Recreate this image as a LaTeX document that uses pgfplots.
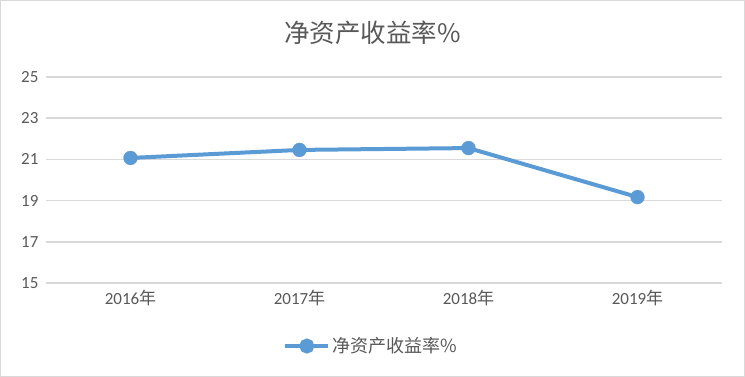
\documentclass[border=0pt]{standalone}
\usepackage{fontspec}
\setmainfont{Carlito}
\newfontfamily\cjk{Noto Sans CJK SC}
\usepackage{pgfplots}
\pgfplotsset{compat=1.18}
\definecolor{linec}{HTML}{5B9BD5}
\definecolor{gridc}{HTML}{D9D9D9}
\definecolor{txt}{HTML}{595959}
\begin{document}
\begin{tikzpicture}
\draw[gridc, fill=white, line width=1bp] (0.5bp,0.5bp) rectangle (744.5bp,376.5bp);
\node[text=txt, font=\cjk\fontsize{25.5bp}{30bp}\selectfont] at (372.5bp,344bp) {净资产收益率\%};
\begin{axis}[at={(46bp,94bp)}, anchor=south west, scale only axis,
  width=676bp, height=206bp,
  xmin=-0.5, xmax=3.5, ymin=15, ymax=25,
  ytick={15,17,...,25}, xtick={0,1,2,3},
  xticklabels={2016{\cjk 年},2017{\cjk 年},2018{\cjk 年},2019{\cjk 年}},
  axis line style={draw=none}, tick style={draw=none},
  ymajorgrids, grid style={gridc, line width=1.6bp},
  tick label style={font=\fontsize{17bp}{20bp}\selectfont, text=txt},
  /pgf/number format/assume math mode=true,
  yticklabel style={anchor=east, xshift=-4bp},
  xticklabel style={anchor=north, yshift=-4bp},
  clip=false,
  legend style={at={(0.481,-0.306)}, anchor=center, draw=none, fill=none,
    font=\cjk\fontsize{18bp}{22bp}\selectfont, text=txt},
  legend image code/.code={\draw[line width=4bp, linec] (0bp,0bp) -- (43bp,0bp); \fill[linec] (21.5bp,0bp) circle (5.5bp);},
]
\addplot[linec, line width=4bp, mark=*, mark size=7bp, mark options={fill=linec, draw=linec, line width=0.2bp}]
  coordinates {(0,21.07)(1,21.46)(2,21.55)(3,19.17)};
\addlegendentry{净资产收益率\%}
\end{axis}
\end{tikzpicture}
\end{document}
